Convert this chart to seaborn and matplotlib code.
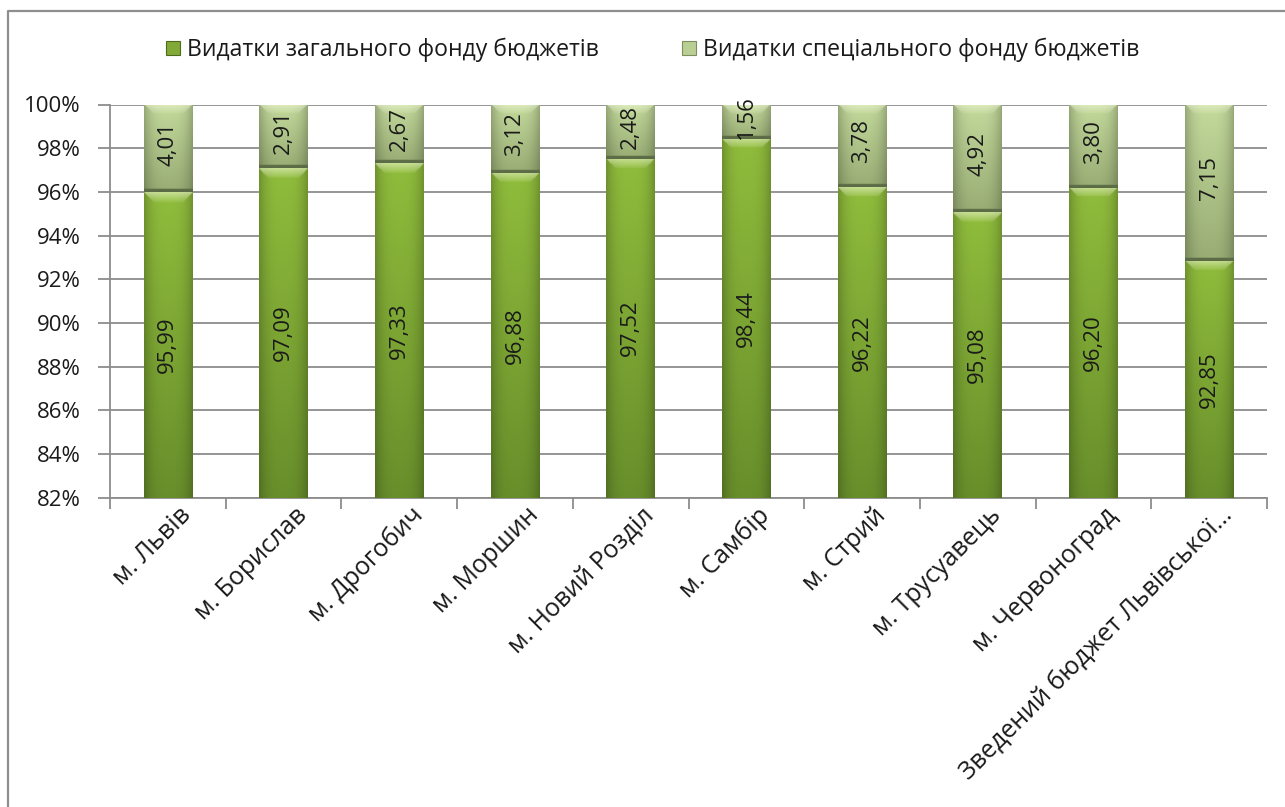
import numpy as np
import pandas as pd
import matplotlib
matplotlib.use("Agg")
import matplotlib.pyplot as plt
import seaborn as sns
from matplotlib.patches import Patch
from matplotlib.lines import Line2D
from matplotlib.transforms import ScaledTranslation

# ---- data -------------------------------------------------------------
cities = [
    "м. Львів", "м. Борислав", "м. Дрогобич", "м. Моршин", "м. Новий Розділ",
    "м. Самбір", "м. Стрий", "м. Трусуавець", "м. Червоноград",
    "Зведений бюджет Львівської…",
]
general = [95.99, 97.09, 97.33, 96.88, 97.52, 98.44, 96.22, 95.08, 96.20, 92.85]
special = [4.01, 2.91, 2.67, 3.12, 2.48, 1.56, 3.78, 4.92, 3.80, 7.15]
y_ticks = [82, 84, 86, 88, 90, 92, 94, 96, 98, 100]
series_names = ["Видатки загального фонду бюджетів",
                "Видатки спеціального фонду бюджетів"]

# ---- style ------------------------------------------------------------
GEN_TOP = np.array([0x90, 0xbd, 0x3c]) / 255
GEN_BOT = np.array([0x68, 0x8e, 0x2b]) / 255
SPC_TOP = np.array([0xc4, 0xda, 0x9c]) / 255
SPC_BOT = np.array([0x98, 0xac, 0x74]) / 255
GRID = "#8c8c8c"
TEXT = "#1a1a1a"
FS = 16

sns.set_theme(style="white")
plt.rcParams["font.family"] = ["Open Sans", "DejaVu Sans"]

W, H = 1285, 807
fig = plt.figure(figsize=(W / 100, H / 100), dpi=100)
ax = fig.add_axes([110 / W, 1 - 497.7 / H, (1267 - 110) / W, (497.7 - 104.5) / H])

df = pd.DataFrame({"city": cities, "general": general, "special": special})
df["total"] = df["general"] + df["special"]

BAR_W = 0.42
sns.barplot(data=df, x="city", y="total", color=tuple(SPC_TOP), width=BAR_W,
            saturation=1, linewidth=0, ax=ax, zorder=2)
sns.barplot(data=df, x="city", y="general", color=tuple(GEN_TOP), width=BAR_W,
            saturation=1, linewidth=0, ax=ax, zorder=3)

Y0, Y1 = 82, 100
ax.set_ylim(Y0, Y1)
ax.set_xlim(-0.5, len(cities) - 0.5)
px_per_unit = (497.7 - 104.5) / (Y1 - Y0)
bar_px = BAR_W * (1267 - 110) / len(cities)


def shade(x0, width, lo, hi, top_c, bot_c, z, dark_base=False):
    """Fill one bar segment with a bevelled, side-darkened gradient."""
    lo = max(lo, Y0)
    ny, nx = 240, 80
    xs = np.linspace(0, 1, nx)
    ys = np.linspace(0, 1, ny)  # 0 = bottom, 1 = top
    vert = ys[:, None, None]
    base = bot_c * (1 - vert) + top_c * vert
    edge = 1 - 0.22 * np.abs(2 * xs - 1) ** 3
    img = base * edge[None, :, None]
    seg_px = (hi - lo) * px_per_unit
    d_top = (1 - ys)[:, None] * seg_px
    d_edge = np.minimum(xs, 1 - xs)[None, :] * bar_px
    bevel = 9.0
    mask = (d_top < bevel) & (d_edge > d_top)
    light = np.where(mask, 0.45 * (1 - d_top / bevel) + 0.1, 0.0)
    img = img * (1 - light[..., None]) + light[..., None] * np.array([0.95, 0.98, 0.85])
    if dark_base:
        d_bot = ys[:, None] * seg_px * np.ones((1, nx))
        m2 = d_bot < 3
        img[m2] = np.array([0x5c, 0x6c, 0x46]) / 255
    img = np.clip(img, 0, 1)
    ax.imshow(img, extent=(x0, x0 + width, lo, hi), origin="lower",
              aspect="auto", interpolation="bilinear", zorder=z)


for i, (g, s) in enumerate(zip(general, special)):
    p = ax.containers[1][i]
    x0, w = p.get_x(), p.get_width()
    shade(x0, w, Y0, g, GEN_TOP, GEN_BOT, 4)
    shade(x0, w, g, g + s, SPC_TOP, SPC_BOT, 4, dark_base=True)
    ax.text(x0 + w / 2, (Y0 + g) / 2, f"{g:.2f}".replace(".", ","),
            rotation=90, ha="center", va="center", fontsize=FS, color=TEXT,
            zorder=6)
    ax.text(x0 + w / 2, g + s / 2 + 0.2, f"{s:.2f}".replace(".", ","),
            rotation=90, ha="center", va="center", fontsize=FS, color=TEXT,
            zorder=6, clip_on=False)

ax.set_xlim(-0.5, len(cities) - 0.5)
ax.set_ylim(Y0, Y1)

# ---- axes -------------------------------------------------------------
ax.set_xlabel("")
ax.set_ylabel("")
ax.set_yticks(y_ticks)
ax.set_yticklabels([f"{t}%" for t in y_ticks])
ax.yaxis.grid(True, color=GRID, linewidth=1.3)
ax.set_axisbelow(True)
for side in ("top", "right"):
    ax.spines[side].set_visible(False)
for side in ("left", "bottom"):
    ax.spines[side].set_color(GRID)
    ax.spines[side].set_linewidth(1.3)

ax.tick_params(axis="y", which="major", left=True, length=9, width=1.3,
               color=GRID, direction="out", labelsize=FS, labelcolor=TEXT,
               pad=12)
ax.set_xticks(np.arange(len(cities)))
ax.set_xticks(np.arange(-0.5, len(cities), 1.0), minor=True)
ax.tick_params(axis="x", which="major", bottom=True, length=0, labelsize=18,
               labelcolor=TEXT, pad=10)
ax.tick_params(axis="x", which="minor", bottom=True, length=8, width=1.3,
               color=GRID, direction="out")
shift = ScaledTranslation(0.2, 0, fig.dpi_scale_trans)
for lab in ax.get_xticklabels():
    lab.set_rotation(45)
    lab.set_ha("right")
    lab.set_va("center")
    lab.set_rotation_mode("anchor")
    lab.set_transform(lab.get_transform() + shift)

# ---- legend -----------------------------------------------------------
handles = [
    Patch(facecolor=tuple(GEN_TOP * 0.9), edgecolor="#4f6b1f", linewidth=0.8),
    Patch(facecolor=tuple(SPC_TOP * 0.95), edgecolor="#7d8f5f", linewidth=0.8),
]
fig.legend(handles, series_names, loc="center", bbox_to_anchor=(0.508, 1 - 50 / H),
           ncol=2, frameon=False, fontsize=16.6, handlelength=0.6,
           handleheight=0.6, handletextpad=0.3, columnspacing=3.6,
           labelcolor=TEXT)

# ---- outer frame ------------------------------------------------------
fig.add_artist(Line2D([8 / W, 8 / W, 1.0], [0.0, 1 - 11 / H, 1 - 11 / H],
                      transform=fig.transFigure, color="#8e8e8e", linewidth=1.6))

fig.savefig("out.png", dpi=100, facecolor="white")
